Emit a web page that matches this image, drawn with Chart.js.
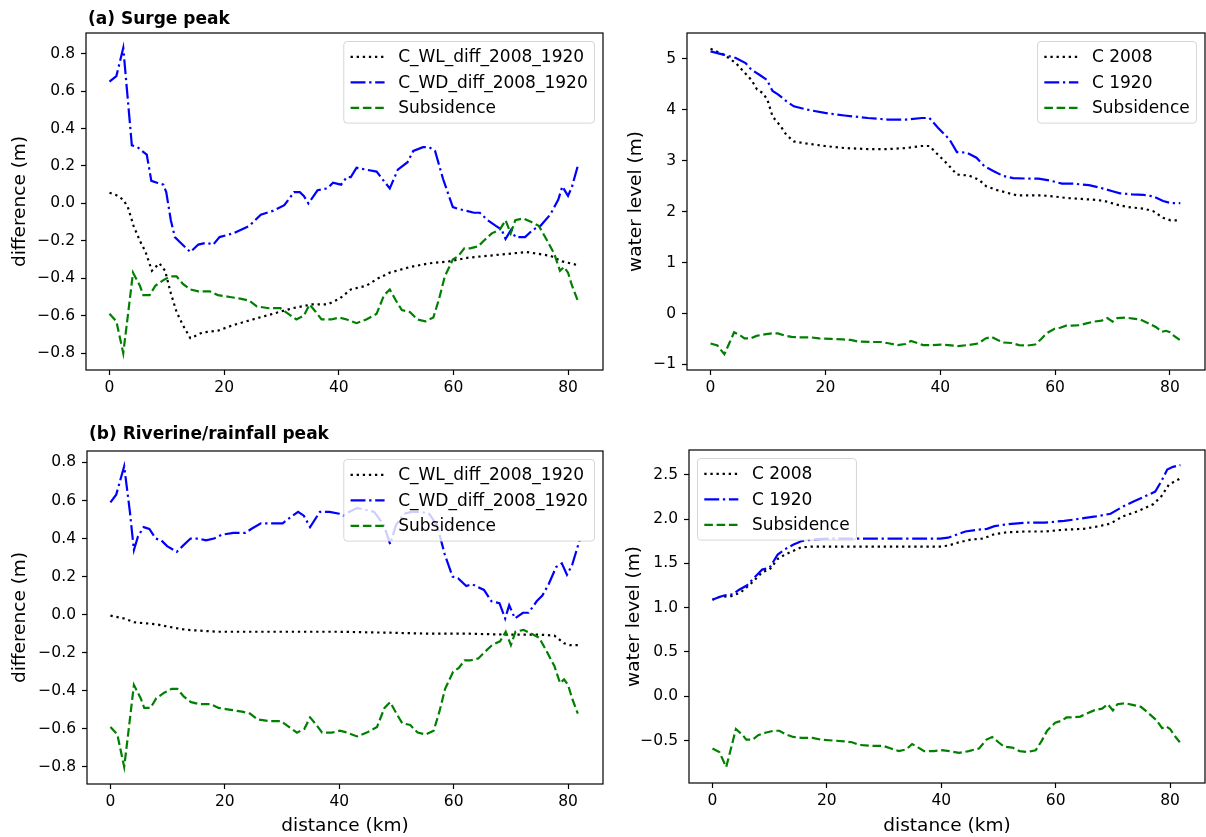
<!DOCTYPE html>
<html>
<head>
<meta charset="utf-8">
<script src="https://cdn.jsdelivr.net/npm/chart.js@4/dist/chart.umd.min.js"></script>
<style>
	body { margin: 0; background: #fff; width: 1206px; height: 837px; position: relative; overflow: hidden; }
	canvas { position: absolute; }
	.panel-title { position: absolute; font: bold 17px "DejaVu Sans"; line-height: 20px; color: #000; white-space: nowrap; }
</style>
</head>
<body>
<canvas id="surge-diff" width="606" height="397" style="left:0px;top:13px"></canvas>
<canvas id="surge-level" width="600" height="397" style="left:606px;top:13px"></canvas>
<canvas id="river-diff" width="606" height="397" style="left:0px;top:440px"></canvas>
<canvas id="river-level" width="600" height="397" style="left:606px;top:440px"></canvas>
<div class="panel-title" style="left:88px;top:8px">(a) Surge peak</div>
<div class="panel-title" style="left:89px;top:423px">(b) Riverine/rainfall peak</div>
<script>
// figure data: [distance (km), value (m)]

// subsidence, same curve in all four panels
const subsidence = [[0,-0.59],[1.2,-0.63],[2.4,-0.80],[3.2,-0.60],[4.1,-0.37],[5.3,-0.44],[5.9,-0.49],[7,-0.49],[8,-0.44],[9.4,-0.41],[10.7,-0.39],[11.7,-0.39],[12.8,-0.43],[14.1,-0.46],[15.5,-0.47],[17.5,-0.47],[18.9,-0.49],[21,-0.50],[23,-0.51],[24.4,-0.52],[25.7,-0.55],[27.8,-0.56],[29.8,-0.56],[31.2,-0.59],[32.6,-0.62],[33.9,-0.60],[34.9,-0.54],[36,-0.58],[37,-0.62],[38.7,-0.62],[40.1,-0.61],[41.4,-0.62],[43.1,-0.64],[44.8,-0.62],[46.6,-0.59],[47.9,-0.49],[48.9,-0.46],[50,-0.52],[51,-0.57],[52.4,-0.58],[53.7,-0.62],[55.1,-0.63],[56.5,-0.61],[57.5,-0.51],[58.5,-0.39],[59.9,-0.30],[60.9,-0.28],[61.9,-0.24],[62.9,-0.24],[64.3,-0.23],[65.3,-0.20],[66.7,-0.16],[68.1,-0.14],[69.1,-0.09],[70,-0.16],[70.8,-0.09],[72.2,-0.08],[73.6,-0.10],[74.9,-0.12],[76.2,-0.19],[77.6,-0.27],[78.6,-0.36],[79.3,-0.34],[80,-0.37],[80.7,-0.44],[81.7,-0.52]];

// (a) surge peak, differences
const surgeWLdiff = [[0,0.057],[1.2,0.044],[2.4,0.02],[3.2,-0.02],[4.2,-0.12],[5.3,-0.20],[6.3,-0.26],[7.4,-0.36],[8.7,-0.32],[9.7,-0.36],[10.7,-0.48],[11.7,-0.58],[12.8,-0.65],[14.1,-0.72],[16.2,-0.69],[18.9,-0.68],[21.6,-0.65],[25,-0.62],[28.5,-0.59],[31.9,-0.56],[35.3,-0.54],[38,-0.54],[40.1,-0.51],[42.1,-0.46],[44.8,-0.44],[46.9,-0.40],[48.9,-0.37],[52.4,-0.34],[55.8,-0.32],[59.2,-0.31],[62.6,-0.29],[66,-0.28],[69.4,-0.27],[72.8,-0.26],[74.9,-0.27],[76.9,-0.28],[79,-0.31],[81.7,-0.33]];
const surgeWDdiff = [[0,0.65],[1.2,0.68],[2.4,0.83],[3.9,0.31],[4.9,0.30],[6.5,0.26],[7.3,0.12],[8.3,0.11],[9.4,0.10],[9.9,0.06],[10.7,-0.09],[11.4,-0.18],[12.4,-0.21],[14.1,-0.26],[15.5,-0.22],[16.9,-0.21],[18.1,-0.22],[19.2,-0.18],[21.6,-0.16],[24.4,-0.12],[26.4,-0.06],[28.5,-0.04],[30.5,-0.01],[32.2,0.06],[33.2,0.06],[33.9,0.04],[34.7,0.00],[36.3,0.07],[38,0.08],[39,0.11],[40.4,0.10],[41.4,0.14],[42.1,0.14],[43.1,0.19],[44.8,0.18],[46.6,0.17],[47.6,0.13],[48.9,0.08],[50.3,0.18],[52,0.22],[53,0.28],[54.7,0.30],[55.8,0.30],[56.8,0.28],[58.2,0.13],[59.9,-0.02],[60.9,-0.03],[62.3,-0.04],[63.6,-0.05],[64.6,-0.05],[66,-0.09],[67.4,-0.12],[68.4,-0.14],[69.1,-0.19],[70.1,-0.14],[70.8,-0.18],[72.5,-0.18],[73.9,-0.14],[75.2,-0.12],[76.9,-0.06],[78.3,0.02],[79,0.09],[80,0.04],[80.7,0.09],[81.7,0.20]];

// (a) surge peak, water levels
const surgeC2008 = [[0,5.20],[2.4,5.08],[4.4,4.92],[5.7,4.76],[7.1,4.59],[8.1,4.40],[9.1,4.33],[9.9,4.20],[10.8,3.87],[12.2,3.68],[13.2,3.51],[14.5,3.38],[16.6,3.34],[19.9,3.29],[23.3,3.25],[27.4,3.23],[30.8,3.23],[34.1,3.25],[36.8,3.29],[38.1,3.29],[39.6,3.12],[41.3,2.93],[42.9,2.73],[45,2.71],[46.7,2.63],[48,2.50],[49.7,2.43],[51.7,2.37],[53.4,2.32],[55.8,2.32],[57.8,2.32],[59.8,2.30],[61.9,2.27],[64.6,2.25],[67.3,2.23],[68.6,2.21],[70.7,2.14],[72.7,2.09],[75.4,2.06],[77.1,2.01],[78.8,1.88],[80.1,1.83],[81.8,1.83]];
const surgeC1920 = [[0,5.15],[2.4,5.08],[4.4,5.02],[6.1,4.92],[7.1,4.79],[8.5,4.69],[9.8,4.59],[10.8,4.37],[11.8,4.30],[13.2,4.17],[14.5,4.07],[16.6,4.01],[19.9,3.94],[23.3,3.89],[27.4,3.84],[30.8,3.81],[34.1,3.81],[36.8,3.84],[38.1,3.84],[39.6,3.65],[41.6,3.42],[42.9,3.17],[44.6,3.16],[46.3,3.06],[47.7,2.89],[49.4,2.79],[51,2.70],[52.7,2.66],[55.1,2.65],[57.1,2.65],[59.2,2.61],[61.2,2.55],[63.2,2.55],[65.9,2.52],[67.9,2.47],[70,2.40],[71.3,2.36],[73.4,2.34],[75.4,2.33],[77.1,2.30],[78.8,2.21],[80.1,2.17],[81.8,2.17]];

// (b) riverine/rainfall peak, differences
const riverWLdiff = [[0,-0.005],[2.4,-0.02],[4.1,-0.04],[7.9,-0.05],[11.3,-0.07],[13.3,-0.08],[16.1,-0.085],[18.8,-0.09],[30,-0.09],[40,-0.09],[48.9,-0.095],[55.7,-0.10],[62.5,-0.10],[69.4,-0.105],[74.8,-0.105],[77.6,-0.11],[79.3,-0.15],[80.3,-0.16],[82,-0.16]];
const riverWDdiff = [[0,0.59],[1,0.63],[2.4,0.78],[3.4,0.54],[4.1,0.34],[4.8,0.41],[5.8,0.46],[6.8,0.45],[7.9,0.40],[8.9,0.39],[9.9,0.36],[11.6,0.33],[12.6,0.36],[14,0.40],[15.4,0.40],[16.7,0.39],[18.1,0.40],[19.5,0.42],[21.5,0.43],[23.6,0.43],[24.6,0.45],[26.3,0.48],[28.4,0.48],[30.1,0.48],[31.4,0.51],[32.8,0.54],[33.8,0.52],[34.9,0.46],[36.6,0.54],[38.3,0.54],[40,0.53],[40.7,0.52],[41.7,0.54],[43.1,0.56],[44.8,0.55],[46.1,0.54],[47.8,0.47],[48.9,0.37],[49.9,0.47],[51.3,0.53],[52.6,0.54],[54.3,0.54],[55.7,0.53],[57.1,0.47],[58.4,0.32],[59.8,0.20],[60.8,0.19],[62.2,0.15],[63.2,0.16],[65.3,0.13],[66.6,0.07],[68,0.06],[69,-0.02],[69.7,0.05],[70.7,-0.02],[72.1,0.01],[73.1,0.01],[74.5,0.07],[75.5,0.10],[76.6,0.16],[77.9,0.25],[78.9,0.27],[79.8,0.21],[80.7,0.26],[82,0.39]];

// (b) riverine/rainfall peak, water levels
const riverC2008 = [[0,1.09],[1.2,1.12],[3.3,1.13],[4.9,1.17],[6,1.23],[7.2,1.30],[8.7,1.40],[10,1.43],[11.4,1.55],[12.7,1.60],[14.1,1.64],[15.5,1.68],[17.5,1.69],[20.9,1.69],[27.6,1.69],[34.4,1.69],[39.8,1.69],[41.2,1.70],[43.2,1.74],[45.3,1.77],[47.3,1.78],[49.3,1.83],[51.4,1.85],[54.7,1.86],[58.1,1.86],[61.5,1.88],[64.9,1.89],[67.6,1.92],[69.6,1.95],[71.7,2.03],[74.4,2.09],[77.1,2.17],[78.5,2.26],[79.8,2.39],[81.8,2.46]];
const riverC1920 = [[0,1.09],[1.2,1.12],[2.2,1.14],[3.6,1.15],[4.6,1.20],[6,1.25],[7.2,1.33],[8.7,1.43],[10,1.45],[11.4,1.60],[12.7,1.66],[14.1,1.71],[15.5,1.75],[17.5,1.77],[20.9,1.78],[27.6,1.78],[34.4,1.78],[39.8,1.78],[41.2,1.79],[42.5,1.82],[44.2,1.86],[46.3,1.88],[48,1.89],[49.3,1.92],[51.4,1.94],[54.7,1.96],[58.1,1.96],[61.5,1.98],[64.9,2.01],[67,2.03],[69.6,2.06],[71.7,2.14],[73.7,2.20],[75.7,2.26],[77.4,2.31],[78.5,2.43],[79.5,2.56],[80.5,2.59],[81.8,2.61]];

// tick values
const distTicks = [0, 20, 40, 60, 80];
const diffTicks = [-0.8, -0.6, -0.4, -0.2, 0, 0.2, 0.4, 0.6, 0.8];
const surgeLevelTicks = [-1, 0, 1, 2, 3, 4, 5];
const riverLevelTicks = [-0.5, 0, 0.5, 1, 1.5, 2, 2.5];

// matplotlib-like line styles (k:, b-., g--)
const LINE_W = 2.2;
const dotted = { borderColor: '#000000', borderDash: [2.3, 3.8], order: 3 };
const dashDot = { borderColor: '#0000ff', borderDash: [14.9, 3.7, 2.3, 3.7], order: 2 };
const dashed = { borderColor: '#008000', borderDash: [8.6, 3.7], order: 1 };

Chart.defaults.font.family = '"DejaVu Sans"';
Chart.defaults.color = '#000';

// tick labels use the unicode minus like matplotlib
function tickText(v, decimals) {
	return v.toFixed(decimals).replace('-', '\u2212');
}

// axes frame + legend box inside the axes (chart.js legend can't sit there)
const frameAndLegend = {
	id: 'frameAndLegend',
	afterDatasetsDraw(chart, args, opts) {
		const ctx = chart.ctx;
		const a = chart.chartArea;
		ctx.save();
		ctx.setLineDash([]);
		ctx.strokeStyle = '#000';
		ctx.lineWidth = 1.2;
		ctx.strokeRect(a.left, a.top, a.right - a.left, a.bottom - a.top);

		const fs = 17, pad = 6.8, handle = 34, gap = 13.6, spacing = 8.5, axPad = 8.5;
		const sets = chart.data.datasets;
		ctx.font = fs + 'px "DejaVu Sans"';
		const textW = Math.max(...sets.map(d => ctx.measureText(d.label).width));
		const w = pad * 2 + handle + gap + textW;
		const h = pad * 2 + sets.length * fs + (sets.length - 1) * spacing;
		const x0 = opts.side === 'left' ? a.left + axPad : a.right - axPad - w;
		const y0 = a.top + axPad;

		ctx.beginPath();
		if (ctx.roundRect) ctx.roundRect(x0, y0, w, h, 3.4);
		else ctx.rect(x0, y0, w, h);
		ctx.fillStyle = 'rgba(255,255,255,0.8)';
		ctx.fill();
		ctx.lineWidth = 1;
		ctx.strokeStyle = 'rgba(204,204,204,0.8)';
		ctx.stroke();

		sets.forEach((d, i) => {
			const cy = y0 + pad + i * (fs + spacing) + fs / 2;
			ctx.beginPath();
			ctx.setLineDash(d.borderDash);
			ctx.strokeStyle = d.borderColor;
			ctx.lineWidth = d.borderWidth;
			ctx.moveTo(x0 + pad, cy);
			ctx.lineTo(x0 + pad + handle, cy);
			ctx.stroke();
			ctx.setLineDash([]);
			ctx.fillStyle = '#000';
			ctx.textBaseline = 'middle';
			ctx.textAlign = 'left';
			ctx.fillText(d.label, x0 + pad + handle + gap, cy + 1);
		});
		ctx.restore();
	}
};

// builds one panel; box gives the pixel layout so the axes line up like the figure
function makePanel(id, series, yRange, yTicks, yDecimals, yTitle, xTitle, legendSide, box) {
	const datasets = series.map(s => Object.assign({
		label: s.label,
		data: s.points.map(p => ({ x: p[0], y: p[1] })),
		borderWidth: LINE_W,
		pointRadius: 0,
		tension: 0,
		fill: false
	}, s.style));

	return new Chart(document.getElementById(id), {
		type: 'line',
		data: { datasets: datasets },
		plugins: [frameAndLegend],
		options: {
			responsive: false,
			animation: false,
			devicePixelRatio: 1,
			layout: { padding: { left: 0, top: box.top, right: box.right, bottom: 0 } },
			plugins: {
				legend: { display: false },
				tooltip: { enabled: false },
				frameAndLegend: { side: legendSide }
			},
			scales: {
				x: {
					type: 'linear',
					min: -4.1,
					max: 86.1,
					afterBuildTicks: (scale) => { scale.ticks = distTicks.map(v => ({ value: v })); },
					afterFit: (scale) => { scale.height = box.xH; scale.paddingLeft = 0; scale.paddingRight = 0; },
					ticks: { autoSkip: false, maxRotation: 0, padding: 4, font: { size: 15.5 }, callback: v => String(v) },
					grid: { drawOnChartArea: false, tickLength: 5, tickWidth: 1.2, tickColor: '#000' },
					border: { display: false },
					title: {
						display: !!xTitle,
						text: xTitle || '',
						font: { size: 18.5 },
						padding: { top: 0, bottom: 0 }
					}
				},
				y: {
					type: 'linear',
					min: yRange[0],
					max: yRange[1],
					afterBuildTicks: (scale) => { scale.ticks = yTicks.map(v => ({ value: v })); },
					afterFit: (scale) => { scale.width = box.yW; scale.paddingTop = 0; scale.paddingBottom = 0; },
					ticks: { autoSkip: false, padding: 6, font: { size: 15.5 }, callback: v => tickText(v, yDecimals) },
					grid: { drawOnChartArea: false, tickLength: 5, tickWidth: 1.2, tickColor: '#000' },
					border: { display: false },
					title: {
						display: true,
						text: yTitle,
						font: { size: 18.5 },
						padding: { top: box.yTitlePad, bottom: 0 }
					}
				}
			}
		}
	});
}

makePanel('surge-diff', [
	{ label: 'C_WL_diff_2008_1920', points: surgeWLdiff, style: dotted },
	{ label: 'C_WD_diff_2008_1920', points: surgeWDdiff, style: dashDot },
	{ label: 'Subsidence', points: subsidence, style: dashed }
], [-0.89, 0.91], diffTicks, 1, 'difference (m)', null, 'right',
	{ top: 20, right: 3, yW: 86, xH: 40, yTitlePad: 9 });

makePanel('surge-level', [
	{ label: 'C 2008', points: surgeC2008, style: dotted },
	{ label: 'C 1920', points: surgeC1920, style: dashDot },
	{ label: 'Subsidence', points: subsidence, style: dashed }
], [-1.11, 5.51], surgeLevelTicks, 0, 'water level (m)', null, 'right',
	{ top: 20, right: 1, yW: 81, xH: 40, yTitlePad: 19 });

makePanel('river-diff', [
	{ label: 'C_WL_diff_2008_1920', points: riverWLdiff, style: dotted },
	{ label: 'C_WD_diff_2008_1920', points: riverWDdiff, style: dashDot },
	{ label: 'Subsidence', points: subsidence, style: dashed }
], [-0.89, 0.86], diffTicks, 1, 'difference (m)', 'distance (km)', 'right',
	{ top: 11, right: 3, yW: 87, xH: 53, yTitlePad: 9 });

makePanel('river-level', [
	{ label: 'C 2008', points: riverC2008, style: dotted },
	{ label: 'C 1920', points: riverC1920, style: dashDot },
	{ label: 'Subsidence', points: subsidence, style: dashed }
], [-0.98, 2.78], riverLevelTicks, 1, 'water level (m)', 'distance (km)', 'left',
	{ top: 10, right: 1, yW: 83, xH: 54, yTitlePad: 17 });
</script>
</body>
</html>
